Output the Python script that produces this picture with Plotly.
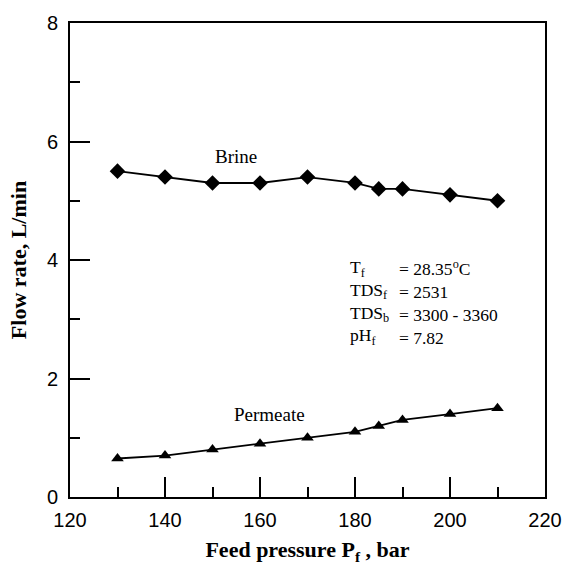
import plotly.graph_objects as go

# Feed pressure (bar) and measured flow rates (L/min)
pressure = [130, 140, 150, 160, 170, 180, 185, 190, 200, 210]
brine_flow = [5.5, 5.4, 5.3, 5.3, 5.4, 5.3, 5.2, 5.2, 5.1, 5.0]
permeate_flow = [0.65, 0.7, 0.8, 0.9, 1.0, 1.1, 1.2, 1.3, 1.4, 1.5]

x_ticks = [120, 140, 160, 180, 200, 220]
y_ticks = [0, 2, 4, 6, 8]

# Operating-condition labels and their values
cond_labels = ["T<sub>f</sub>", "TDS<sub>f</sub>", "TDS<sub>b</sub>", "pH<sub>f</sub>"]
cond_values = ["= 28.35<sup>o</sup>C", "= 2531", "= 3300 - 3360", "= 7.82"]

serif = "Liberation Serif, Times New Roman, serif"
sans = "Liberation Sans, Arial, sans-serif"

fig = go.Figure()
fig.add_trace(go.Scatter(
    x=pressure, y=brine_flow, mode="lines+markers", name="Brine",
    line=dict(color="black", width=1.8),
    marker=dict(symbol="diamond", size=12, color="black"),
))
fig.add_trace(go.Scatter(
    x=pressure, y=permeate_flow, mode="lines+markers", name="Permeate",
    line=dict(color="black", width=1.8),
    marker=dict(symbol="triangle-up", size=11, color="black"),
))

axis_common = dict(
    showgrid=False, zeroline=False, showline=True, linecolor="black",
    linewidth=2, mirror=True, ticks="inside", tickcolor="black",
    tickwidth=2, ticklen=20,
    tickfont=dict(family=sans, size=20, color="black"),
)

fig.update_xaxes(
    range=[120, 220], tickvals=x_ticks, ticklabelstandoff=4,
    minor=dict(dtick=10, ticks="inside", ticklen=10, tickcolor="black", tickwidth=2),
    title=dict(text="<b>Feed pressure P<sub>f</sub> , bar</b>",
               font=dict(family=serif, size=22, color="black"), standoff=12),
    **axis_common,
)
fig.update_yaxes(
    range=[0, 8], tickvals=y_ticks, ticklabelstandoff=6,
    minor=dict(dtick=1, ticks="inside", ticklen=10, tickcolor="black", tickwidth=2),
    title=dict(text="<b>Flow rate, L/min</b>",
               font=dict(family=serif, size=22, color="black"), standoff=14),
    **axis_common,
)

cond_font = dict(family=serif, size=17.5, color="black")
annotations = [
    dict(x=155, y=5.75, text="Brine", showarrow=False,
         font=dict(family=serif, size=19, color="black")),
    dict(x=162, y=1.39, text="Permeate", showarrow=False,
         font=dict(family=serif, size=19, color="black")),
    # condition names and values as two aligned text columns
    dict(x=178.5, y=3.29, text="<br>".join(cond_labels), showarrow=False,
         xanchor="left", yanchor="middle", align="left", font=cond_font),
    dict(x=188.9, y=3.29, text="<br>".join(cond_values), showarrow=False,
         xanchor="left", yanchor="middle", align="left", font=cond_font),
]

fig.update_layout(
    width=574, height=572,
    margin=dict(l=70, r=20, t=12, b=75),
    paper_bgcolor="white", plot_bgcolor="white",
    showlegend=False,
    annotations=annotations,
)

fig.write_html("out.html")
